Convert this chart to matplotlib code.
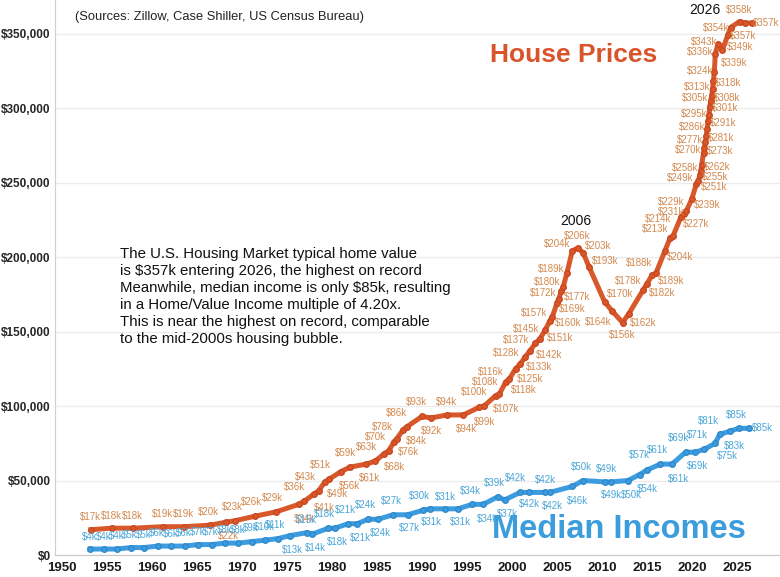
import numpy as np
import matplotlib
matplotlib.use('Agg')
import matplotlib.pyplot as plt

plt.rcParams['font.family'] = ['Liberation Sans', 'DejaVu Sans']

# house prices ($k), label side: a = left of travel, b = right, t = top, u = under,
# r = right, l = left, d = down-right
house_years = [1953.2, 1955.5, 1957.9, 1961.2, 1963.5, 1966.4, 1968.2, 1969.2, 1971.4, 1973.8,
               1976.3, 1976.9, 1978.0, 1978.5, 1979.2, 1979.7, 1981.0, 1982.0, 1983.8, 1984.8,
               1985.8, 1986.3, 1986.9, 1987.2, 1987.9, 1988.3, 1990.0, 1991.0, 1992.8, 1994.6,
               1996.3, 1996.9, 1998.2, 1998.6, 1999.3, 1999.7, 2000.4, 2000.9, 2001.5, 2002.0,
               2002.6, 2003.1, 2003.7, 2004.2, 2004.5, 2005.0, 2005.2, 2005.5, 2005.7, 2006.1,
               2006.7, 2007.3, 2007.9, 2008.6, 2010.3, 2011.1, 2012.3, 2013.0, 2014.6,
               2015.0, 2015.6, 2016.0, 2017.0, 2017.6, 2017.9, 2018.8, 2019.1, 2019.4, 2020.0,
               2020.5, 2020.7, 2020.9, 2021.0, 2021.1, 2021.3, 2021.4, 2021.5, 2021.6, 2021.7,
               2021.8, 2021.9, 2022.0, 2022.1, 2022.2, 2022.3, 2022.4, 2022.5, 2022.6, 2022.9,
               2023.4, 2024.0, 2024.3, 2025.3, 2025.9, 2026.7]
house_vals = [17, 18, 18, 19, 19, 20, 22, 23, 26, 29,
              34, 36, 41, 43, 49, 51, 56, 59, 61, 63,
              68, 70, 76, 78, 84, 86, 93, 92, 94, 94,
              99, 100, 107, 108, 116, 118, 125, 128, 133, 137,
              142, 145, 151, 157, 160, 169, 172, 177, 180, 189,
              204, 206, 203, 193, 170, 164, 156, 162, 178,
              182, 188, 189, 204, 213, 214, 227, 229, 231, 239,
              249, 251, 255, 258, 262, 270, 273, 277, 281, 286,
              291, 295, 301, 305, 308, 313, 318, 324, 336, 343,
              339, 349, 354, 358, 357, 357]
house_side = list('aaaaaabaaa' 'bababababa' 'bababaabab' 'babaabbaba' 'bababbabaa'
                  'ataaabuba' 'babbaabaab' 'abbabababa' 'babababaal' 'bdltbr')

# median household income ($k)
inc_years = [1953.1, 1954.6, 1956.1, 1957.6, 1959.1, 1960.6, 1962.1, 1963.6, 1965.1, 1966.6,
             1968.1, 1969.6, 1971.1, 1972.6, 1974.0, 1975.3, 1977.2, 1977.8, 1979.6, 1980.3,
             1981.8, 1982.8, 1984.0, 1985.1, 1986.8, 1988.4, 1990.1, 1990.9, 1992.6, 1994.0,
             1995.6, 1996.8, 1998.4, 1999.2, 2000.9, 2001.9, 2003.7, 2004.2, 2006.7, 2007.9,
             2010.4, 2011.0, 2012.9, 2014.2, 2015.0, 2016.5, 2017.8, 2019.3, 2020.4, 2021.4,
             2022.6, 2023.1, 2024.2, 2025.2, 2026.3]
inc_vals = [4, 4, 4, 5, 5, 6, 6, 6, 7, 7,
            8, 8, 9, 10, 11, 13, 15, 14, 18, 18,
            21, 21, 24, 24, 27, 27, 30, 31, 31, 31,
            34, 34, 39, 37, 42, 42, 42, 42, 46, 50,
            49, 49, 50, 54, 57, 61, 61, 69, 69, 71,
            75, 81, 83, 85, 85]
inc_side = list('aaaaaaaaaa' 'aaaaababab' 'ababababab' 'ababababba' 'abbbaababa' 'babar')

x_ticks = list(range(1950, 2026, 5))
y_ticks = list(range(0, 350001, 50000))

house_line = '#D9582B'
house_text = '#D3894F'
inc_line = '#3C9CDF'
inc_text = '#4BA6D8'

fig = plt.figure(figsize=(7.8, 5.77), dpi=100)
ax = fig.add_axes([55/780, 22/577, 725/780, 555/577])
ax.set_xlim(1949.2, 2029.8)
ax.set_ylim(0, 372500)

ax.set_yticks(y_ticks)
ax.set_yticklabels(['$0'] + [f'${v:,}' for v in y_ticks[1:]], fontsize=8.5,
                   fontweight='bold', color='#262626')
ax.set_xticks(x_ticks)
ax.set_xticklabels([str(y) for y in x_ticks], fontsize=9.5, fontweight='bold', color='#1a1a1a')
ax.tick_params(length=0, pad=3)
ax.tick_params(axis='x', pad=5)
ax.grid(axis='y', color='#ececec', lw=1)
ax.set_axisbelow(True)
for s in ['top', 'right']:
    ax.spines[s].set_visible(False)
ax.spines['left'].set_color('#d0d0d0')
ax.spines['bottom'].set_color('#c8c8c8')

hv = np.array(house_vals) * 1000
iv = np.array(inc_vals) * 1000
ax.plot(house_years, hv, color=house_line, lw=3.6, marker='o', ms=4,
        mec='#C9481F', mfc=house_line, zorder=3)
ax.plot(inc_years, iv, color=inc_line, lw=3.6, marker='o', ms=4,
        mec='#2F8ACB', mfc=inc_line, zorder=3)

fixed = {'t': (0, 1), 'u': (0, -1), 'r': (1, 0), 'l': (-1, 0), 'd': (0.707, -0.707)}


def add_labels(years, vals, sides, color):
    pts = ax.transData.transform(np.column_stack([years, np.array(vals) * 1000]))
    n = len(pts)
    placed = []
    for i in range(n):
        t = pts[min(i + 1, n - 1)] - pts[max(i - 1, 0)]
        t = t / np.hypot(t[0], t[1])
        nx, ny = -t[1], t[0]
        s = sides[i]
        if s == 'b':
            nx, ny = -nx, -ny
        elif s in fixed:
            nx, ny = fixed[s]
        d = 2 + 12 * abs(nx) + 10 * abs(ny)
        pos = pts[i] + np.array([nx * d, ny * d])
        # on the steep parts move a label off a neighbour it would sit on
        if abs(nx) > 0.6:
            for _ in range(6):
                hit = False
                for p in placed:
                    if abs(p[0] - pos[0]) < 24 and abs(p[1] - pos[1]) < 9:
                        pos[1] = p[1] + (10 if pos[1] >= p[1] else -10)
                        hit = True
                if not hit:
                    break
        placed.append(pos)
        off = pos - pts[i]
        ax.annotate(f'${vals[i]}k', (years[i], vals[i] * 1000), xytext=(off[0], off[1]),
                    textcoords='offset pixels', ha='center', va='center',
                    fontsize=7, color=color, zorder=4)


add_labels(house_years, house_vals, house_side, house_text)
add_labels(inc_years, inc_vals, inc_side, inc_text)

# annotations
peak = house_vals.index(max(house_vals[:60]))
ax.annotate('2006', (house_years[peak], house_vals[peak] * 1000), xytext=(-2, 27),
            textcoords='offset pixels', ha='center', va='center', fontsize=10, color='#111111')
fig.text(705/780, 1 - 10/577, '2026', ha='center', va='center', fontsize=10, color='#111111')
fig.text(75/780, 1 - 17/577, '(Sources: Zillow, Case Shiller, US Census Bureau)',
         ha='left', va='center', fontsize=9.3, color='#222222')
fig.text(490/780, 1 - 55/577, 'House Prices', ha='left', va='center', fontsize=19,
         fontweight='bold', color='#D9532B')
fig.text(492/780, 1 - 530/577, 'Median Incomes', ha='left', va='center', fontsize=23.5,
         fontweight='bold', color='#3B9DDB')
fig.text(120/780, 1 - 247/577,
         'The U.S. Housing Market typical home value\n'
         'is $357k entering 2026, the highest on record\n'
         'Meanwhile, median income is only $85k, resulting\n'
         'in a Home/Value Income multiple of 4.20x.\n'
         'This is near the highest on record, comparable\n'
         'to the mid-2000s housing bubble.',
         ha='left', va='top', fontsize=10.8, linespacing=1.28, color='#111111')

fig.savefig('out.png', dpi=100)
